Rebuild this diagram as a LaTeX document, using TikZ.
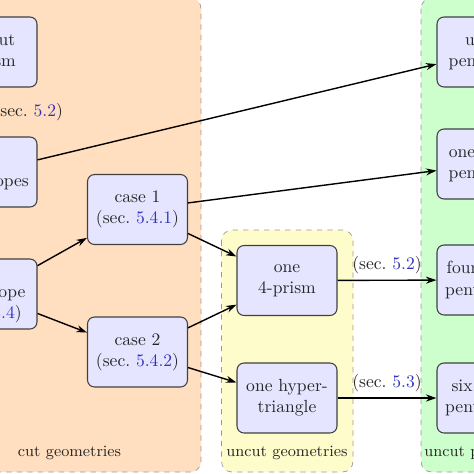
\documentclass[tikz,border=0pt]{standalone}
\usetikzlibrary{arrows.meta}
\definecolor{refblue}{RGB}{50,50,190}
\newcommand{\secref}[1]{(sec.\ \textcolor{refblue}{#1})}
\begin{document}
\begin{tikzpicture}[x=0.02cm,y=-0.02cm,
  box/.style={draw=black!75, fill=blue!10, rounded corners=4pt, minimum width=2cm,
    minimum height=1.4cm, align=center, semithick, text=black!85},
  region/.style={draw=black!40, dashed, rounded corners=6pt},
  conn/.style={-{Stealth[length=6pt,width=4pt]}, thick},
  lab/.style={font=\small, text=black!85}]
\useasboundingbox (0,0) rectangle (474,474);
\clip (0,0) rectangle (474,474);
% regions
\path[region, fill=orange!25] (-62,-2) rectangle (201,472);
\path[region, fill=yellow!20] (221.5,230) rectangle (353,472);
\path[region, fill=green!20] (421,-2) rectangle (551,472);
\node[lab] (lcut) at (69.5,453) {cut geometries};
\node[lab] (luncut) at (287,453) {uncut geometries};
\node[lab] (lpent) at (486,453) {uncut pentatopes};
% nodes
\node[box] (L1) at (-13,52) {one cut\\4-prism};
\node[box] (L2) at (-13,172) {cut\\pentatopes};
\node[box] (L3) at (-13,294) {cut\\pentatope\\\secref{5.4}};
\node[box] (C1) at (137.5,209.5) {case 1\\\secref{5.4.1}};
\node[box] (C2) at (137.5,352) {case 2\\\secref{5.4.2}};
\node[box] (P) at (287,280.5) {one\\4-prism};
\node[box] (H) at (287,398) {one hyper-\\triangle};
\node[box] (R1) at (487,52) {uncut\\pentatope};
\node[box] (R2) at (487,164) {one uncut\\pentatope};
\node[box] (R3) at (487,280) {four uncut\\pentatopes};
\node[box] (R4) at (487,398) {six uncut\\pentatopes};
% connectors
\draw[conn] (L1) -- node[right, text=black!85] {\secref{5.2}} (L2);
\draw[conn] (L2) -- (R1);
\draw[conn] (L3) -- (C1);
\draw[conn] (L3) -- (C2);
\draw[conn] (C1) -- (R2);
\draw[conn] (C1) -- (P);
\draw[conn] (C2) -- (P);
\draw[conn] (C2) -- (H);
\draw[conn] (P) -- node[above, text=black!85] {\secref{5.2}} (R3);
\draw[conn] (H) -- node[above, text=black!85] {\secref{5.3}} (R4);
\end{tikzpicture}
\end{document}
